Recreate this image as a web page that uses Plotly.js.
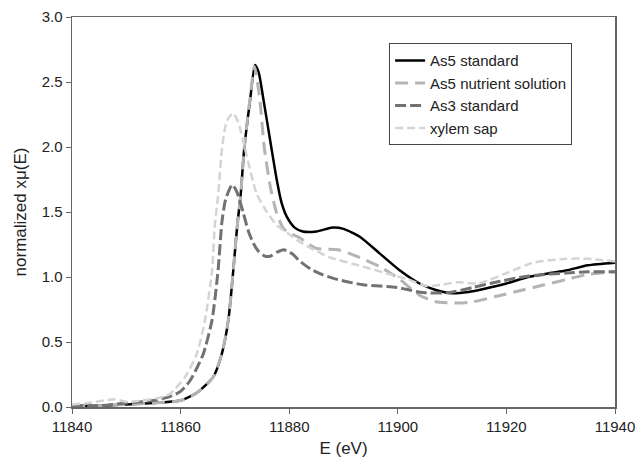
<!DOCTYPE html>
<html>
<head>
<meta charset="utf-8">
<script src="https://cdn.plot.ly/plotly-3.0.1.min.js"></script>
<style>html,body{margin:0;padding:0;background:#fff;}#chart{width:637px;height:465px;}</style>
</head>
<body>
<div id="chart"></div>
<script>
const as5StdE = [11840,11845,11850,11855,11858,11860,11863,11866,11867.6,11868.8,11869.7,11870.4,11871.1,11871.7,11872.8,11873.7,11874.4,11875.2,11876.5,11877.7,11878.6,11879.6,11881,11882.5,11885,11888,11890,11893,11896.7,11900.4,11904,11907,11910,11913,11916,11920,11924,11928,11931,11935,11940];
const as5StdV = [0.01,0.01,0.02,0.03,0.04,0.05,0.11,0.23,0.41,0.67,1.05,1.38,1.65,1.98,2.36,2.63,2.57,2.38,2.05,1.75,1.57,1.46,1.38,1.35,1.35,1.38,1.37,1.31,1.18,1.05,0.95,0.90,0.875,0.885,0.91,0.95,1.0,1.03,1.05,1.09,1.11];

const as5NutE = [11840,11845,11850,11855,11860,11863,11866,11867.6,11868.8,11869.7,11870.4,11871.1,11871.7,11872.8,11873.6,11874.6,11875.4,11876.5,11877.7,11879,11880.5,11882,11885,11889,11893,11896.7,11900.4,11904,11907,11911,11914,11918,11923,11927,11931,11935,11940];
const as5NutV = [0.01,0.01,0.02,0.03,0.05,0.11,0.23,0.41,0.67,1.05,1.38,1.65,1.98,2.38,2.62,2.36,2.0,1.7,1.49,1.37,1.33,1.30,1.22,1.21,1.15,1.08,0.98,0.86,0.81,0.80,0.81,0.85,0.90,0.94,0.98,1.02,1.04];

const as3StdE = [11840,11845,11850,11855,11858,11860,11861.7,11863,11864.2,11865.8,11866.9,11867.6,11868.3,11869.5,11870.3,11871.5,11872.5,11873.4,11874.3,11875.5,11876.5,11877.7,11879,11880.5,11882,11884,11886,11889,11893.6,11899.8,11904.6,11909.6,11913.8,11918,11923,11927,11931,11935,11940];
const as3StdV = [0.01,0.01,0.03,0.05,0.08,0.12,0.2,0.3,0.41,0.67,1.05,1.42,1.6,1.71,1.66,1.5,1.35,1.26,1.2,1.16,1.16,1.19,1.21,1.18,1.12,1.06,1.02,0.98,0.94,0.92,0.88,0.88,0.92,0.96,1.0,1.02,1.03,1.04,1.04];

const xylemE = [11840,11843,11846,11848,11850,11853,11856,11858,11860.8,11863,11864.5,11865.8,11866.3,11866.9,11867.6,11868.5,11869.7,11870.7,11871.9,11874,11875.9,11877.7,11879.6,11882,11885,11887.5,11893.6,11898.6,11902,11905.4,11908,11911,11914.6,11917,11920,11925,11931,11935,11940];
const xylemV = [0.02,0.03,0.05,0.06,0.04,0.05,0.07,0.1,0.23,0.41,0.67,1.05,1.4,1.62,1.98,2.2,2.26,2.18,1.98,1.64,1.5,1.4,1.34,1.27,1.2,1.15,1.08,1.02,0.98,0.93,0.94,0.96,0.95,0.98,1.03,1.11,1.14,1.14,1.12];

const names = ["As5 standard","As5 nutrient solution","As3 standard","xylem sap"];
const xTicks = [11840,11860,11880,11900,11920,11940];
const yTicks = [0,0.5,1.0,1.5,2.0,2.5,3.0];

const traces = [
  {x: as5StdE, y: as5StdV, name: names[0], mode: 'lines', line: {color: '#000000', width: 2.5, shape: 'spline', smoothing: 0.6}},
  {x: as5NutE, y: as5NutV, name: names[1], mode: 'lines', line: {color: '#b4b4b4', width: 3, dash: '13px,7px', shape: 'spline', smoothing: 0.6}},
  {x: as3StdE, y: as3StdV, name: names[2], mode: 'lines', line: {color: '#727272', width: 3, dash: '11px,4px', shape: 'spline', smoothing: 0.6}},
  {x: xylemE, y: xylemV, name: names[3], mode: 'lines', line: {color: '#d4d4d4', width: 2.5, dash: '8px,4px', shape: 'spline', smoothing: 0.6}}
];

const axisFont = {family: 'Liberation Sans, Arial, sans-serif', size: 15, color: '#222'};
const layout = {
  width: 637, height: 465,
  margin: {l: 72, r: 22, t: 17, b: 58},
  paper_bgcolor: '#fff', plot_bgcolor: '#fff',
  font: axisFont,
  showlegend: true,
  legend: {
    x: 0.584, y: 0.933, xanchor: 'left', yanchor: 'top',
    bordercolor: '#444', borderwidth: 1, bgcolor: '#fff',
    font: {family: 'Liberation Sans, Arial, sans-serif', size: 15, color: '#222'},
    tracegroupgap: 0
  },
  xaxis: {
    range: [11840, 11940], tickvals: xTicks, ticktext: xTicks.map(String),
    showgrid: false, zeroline: false, showline: true, linecolor: '#666', linewidth: 1.5,
    mirror: true, ticks: 'outside', ticklen: 5, tickcolor: '#666',
    tickfont: axisFont,
    title: {text: 'E (eV)', font: {family: 'Liberation Sans, Arial, sans-serif', size: 17, color: '#222'}, standoff: 8}
  },
  yaxis: {
    range: [0, 3.0], tickvals: yTicks, ticktext: yTicks.map(v => v.toFixed(1)),
    showgrid: false, zeroline: false, showline: true, linecolor: '#666', linewidth: 1.5,
    mirror: true, ticks: 'outside', ticklen: 5, tickcolor: '#666',
    tickfont: axisFont,
    title: {text: 'normalized xμ(E)', font: {family: 'Liberation Sans, Arial, sans-serif', size: 17, color: '#222'}, standoff: 10}
  }
};

Plotly.newPlot('chart', traces, layout, {displayModeBar: false, staticPlot: true});
</script>
</body>
</html>
